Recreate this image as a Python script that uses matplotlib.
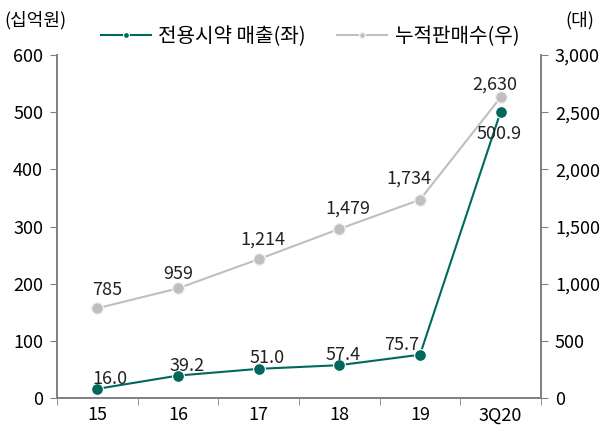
import matplotlib
matplotlib.use("Agg")
import matplotlib.pyplot as plt
from matplotlib.ticker import FuncFormatter

plt.rcParams['font.family'] = ['Noto Sans CJK KR', 'DejaVu Sans']

categories = ['15', '16', '17', '18', '19', '3Q20']
sales = [16.0, 39.2, 51.0, 57.4, 75.7, 500.9]
cumulative = [785, 959, 1214, 1479, 1734, 2630]
sales_labels = ['16.0', '39.2', '51.0', '57.4', '75.7', '500.9']
cum_labels = ['785', '959', '1,214', '1,479', '1,734', '2,630']

# label offsets in pixels (dx, dy of baseline from point centre)
sales_off = [(13, 5), (9, 5), (8, 6), (4, 5), (-18, 5), (-2, -27)]
cum_off = [(10, 13), (0, 9), (4, 15), (9, 15), (-11, 16), (-6, 8)]

teal = '#00695C'
gray = '#BFBFBF'
spine_c = '#808080'
fs = 13

fig = plt.figure(figsize=(6.09, 4.32), dpi=100)
ax = fig.add_axes([57/609, 1-398/432, (541-57)/609, (398-55)/432])
ax2 = ax.twinx()

x = list(range(len(categories)))
l2, = ax2.plot(x, cumulative, color=gray, lw=1.5, marker='o', ms=8.5,
               markerfacecolor=gray, markeredgecolor='#F4F0FA', mew=1.0, zorder=2,
               label='누적판매수(우)')
l1, = ax.plot(x, sales, color=teal, lw=1.5, marker='o', ms=8.5,
              markerfacecolor=teal, markeredgecolor='white', mew=0.8, zorder=3,
              label='전용시약 매출(좌)')
ax.set_zorder(ax2.get_zorder() + 1)
ax.patch.set_visible(False)

ax.set_xlim(-0.5, len(categories) - 0.5)
ax.set_ylim(0, 600)
ax2.set_ylim(0, 3000)
ax.set_yticks(range(0, 601, 100))
ax2.set_yticks(range(0, 3001, 500))
ax2.yaxis.set_major_formatter(FuncFormatter(lambda v, p: f'{int(v):,}'))

ax.set_xticks(x)
ax.set_xticklabels(categories)
ax.set_xticks([i - 0.5 for i in range(len(categories) + 1)], minor=True)
ax.tick_params(axis='x', which='major', length=0, pad=6, labelsize=fs)
ax.tick_params(axis='x', which='minor', length=5, color=spine_c, direction='out')
ax.tick_params(axis='y', length=5, color=spine_c, labelsize=fs, pad=5)
ax2.tick_params(axis='y', length=5, color=spine_c, labelsize=fs, pad=5)

for a in (ax, ax2):
    a.spines['top'].set_visible(False)
    for s in ('left', 'right', 'bottom'):
        a.spines[s].set_color(spine_c)
        a.spines[s].set_linewidth(1.2)

# data labels
for i, (v, t) in enumerate(zip(sales, sales_labels)):
    dx, dy = sales_off[i]
    ax.annotate(t, (i, v), xytext=(dx, dy), textcoords='offset pixels',
                ha='center', va='baseline', fontsize=fs, color='#222222', zorder=5)
for i, (v, t) in enumerate(zip(cumulative, cum_labels)):
    dx, dy = cum_off[i]
    ax2.annotate(t, (i, v), xytext=(dx, dy), textcoords='offset pixels',
                 ha='center', va='baseline', fontsize=fs, color='#222222')

fig.text(35/609, 1-20/432, '(십억원)', ha='center', va='center', fontsize=fs)
fig.text(580/609, 1-20/432, '(대)', ha='center', va='center', fontsize=fs)

fig.legend([l1, l2], [l1.get_label(), l2.get_label()], loc='center',
           bbox_to_anchor=(310/609, 1-37/432), ncol=2, frameon=False,
           fontsize=14.5, handlelength=2.5, columnspacing=1.55, handletextpad=0.35,
           markerscale=0.5)

fig.savefig('out.png', dpi=100)
